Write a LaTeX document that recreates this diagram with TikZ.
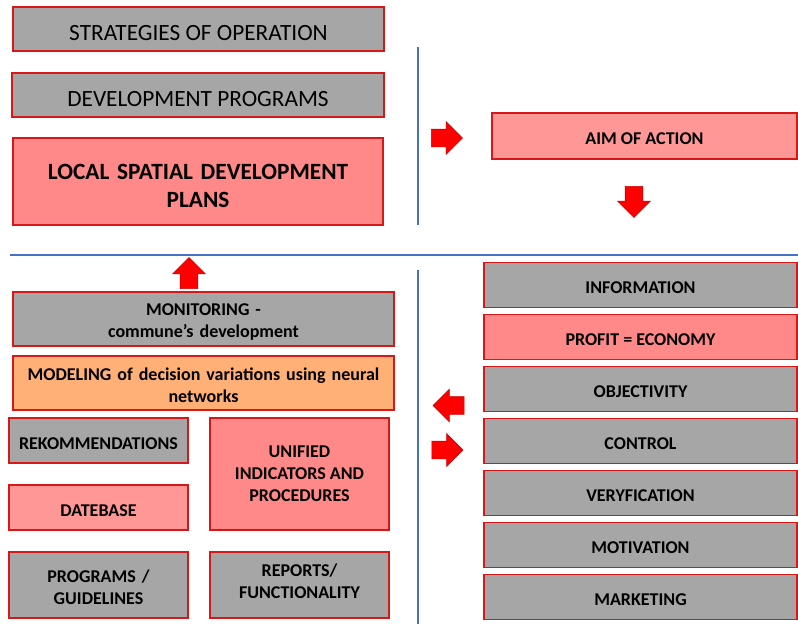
\documentclass[tikz,border=0pt]{standalone}
\usepackage{fontspec}
\setmainfont{Carlito}
\usetikzlibrary{shapes.arrows}
\definecolor{boxgray}{HTML}{A6A6A6}
\definecolor{boxpink}{HTML}{FF8989}
\definecolor{boxlight}{HTML}{FF9797}
\definecolor{boxorange}{HTML}{FFB077}
\definecolor{edgered}{HTML}{D81818}
\definecolor{linblue}{HTML}{4472C4}
\tikzset{box/.style={draw=edgered, line width=1.2pt, inner sep=2pt, align=center, font=\fontsize{18}{22}\selectfont\bfseries,
    execute at begin node={\rule{0pt}{1em}}},
  graybox/.style={box, fill=boxgray},
  pinkbox/.style={box, fill=boxpink},
  lightbox/.style={box, fill=boxlight},
  bigarrow/.style={single arrow, fill=red, draw=red!80!black, line width=0.6pt, inner xsep=0pt, inner ysep=8.5pt,
    minimum width=32pt, minimum height=31pt, single arrow head extend=7.5pt},
  % rotated arrows take their shaft from the x separation
  vertarrow/.style={bigarrow, inner xsep=8.5pt, inner ysep=0pt},
  divider/.style={linblue, line width=2.5pt}}

\begin{document}
\begin{tikzpicture}[x=1pt,y=-1pt]
  \useasboundingbox (0,0) rectangle (798,624);
  % upper half
  \node[graybox, minimum width=371pt, minimum height=44pt, font=\fontsize{23.3}{27}\selectfont] (strat) at (198.5,29) {STRATEGIES OF OPERATION};
  \node[graybox, minimum width=372pt, minimum height=44pt, font=\fontsize{23.3}{27}\selectfont] (devprog) at (198,95) {DEVELOPMENT PROGRAMS};
  \node[pinkbox, minimum width=370pt, minimum height=87pt, text width=340pt, font=\fontsize{23.3}{28}\selectfont\bfseries] (lsdp) at (198,181.5) {LOCAL SPATIAL DEVELOPMENT\\PLANS};
  \node[lightbox, minimum width=305pt, minimum height=46pt] (aim) at (644.5,136) {AIM OF ACTION};
  \node[bigarrow] (toaim) at (442.5,138) {};
  \node[vertarrow, shape border rotate=270] (fromaim) at (634,197.5) {};
  % dividing lines
  \draw[divider] (418,47) -- (418,225);
  \draw[divider] (10,255) -- (798,255);
  \draw[divider] (418,270) -- (418,624);
  % lower left
  \node[vertarrow, shape border rotate=90] (up) at (189,277.5) {};
  \node[graybox, minimum width=381pt, minimum height=54pt, text width=370pt] (monit) at (203.5,319) {MONITORING -\\commune’s development};
  \node[box, fill=boxorange, minimum width=381pt, minimum height=54pt, text width=370pt] (model) at (203.5,383) {MODELING of decision variations using neural\\networks};
  \node[graybox, minimum width=179pt, minimum height=45pt] (rekom) at (98.5,440.5) {REKOMMENDATIONS};
  \node[lightbox, minimum width=179pt, minimum height=45pt] (dbase) at (98.5,507.5) {DATEBASE};
  \node[graybox, minimum width=179pt, minimum height=66pt, text width=170pt] (progs) at (98.5,585) {PROGRAMS /\\GUIDELINES};
  \node[pinkbox, minimum width=179pt, minimum height=112pt, execute at begin node={}] (unif) at (299.5,474) {UNIFIED\\INDICATORS AND\\PROCEDURES};
  \node[graybox, minimum width=179pt, minimum height=66pt, execute at begin node={},
    execute at end node={\rule[-8pt]{0pt}{8pt}}] (reports) at (299.5,585) {REPORTS/\\FUNCTIONALITY};
  % lower right
  \node[bigarrow, shape border rotate=180] (back) at (453,405.5) {};
  \node[bigarrow] (forth) at (443,450) {};
  \foreach \name/\txt/\style [count=\i from 0] in {info/INFORMATION/graybox, profit/PROFIT = ECONOMY/pinkbox,
      objec/OBJECTIVITY/graybox, control/CONTROL/graybox, veryf/VERYFICATION/graybox,
      motiv/MOTIVATION/graybox, market/MARKETING/graybox}
    \node[\style, minimum width=313pt, minimum height=45pt] (\name) at (640.5,285+52*\i) {\txt};
\end{tikzpicture}
\end{document}
